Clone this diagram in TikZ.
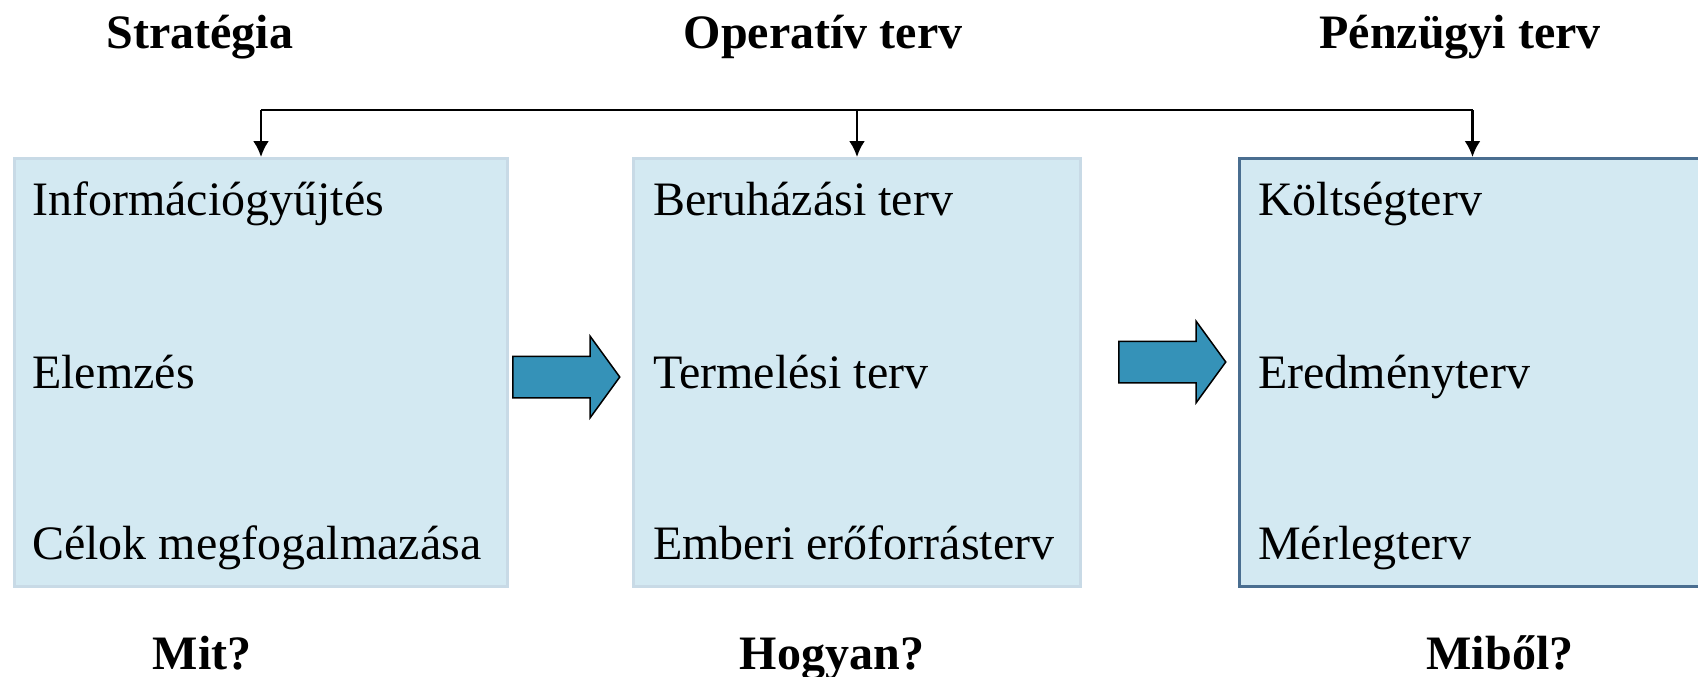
\documentclass[tikz,border=0pt]{standalone}
\usepackage{fontspec}
\setmainfont{Liberation Serif}
\usetikzlibrary{shapes.arrows,arrows.meta}
\definecolor{boxfill}{HTML}{D3E9F2}
\definecolor{boxline}{HTML}{C8DAE6}
\definecolor{boxdark}{HTML}{4A6E90}
\definecolor{arrowfill}{HTML}{3592B8}
\begin{document}
\begin{tikzpicture}[>={Latex[length=16pt,width=16pt]},x=1pt,y=-1pt,
    box/.style={draw=boxline,line width=3pt,fill=boxfill,anchor=north west,inner sep=0,minimum height=428pt},
    item/.style={anchor=base west,inner sep=0,font=\fontsize{48}{58}\selectfont},
    head/.style={anchor=base,inner sep=0,font=\fontsize{48}{58}\selectfont\bfseries},
    fat/.style={shape=single arrow,draw,line width=1.5pt,fill=arrowfill,anchor=tail,inner xsep=0,inner ysep=20pt,
      minimum height=107pt,single arrow head extend=20pt,single arrow tip angle=108}]
    \useasboundingbox (0,0) rectangle (1698,677);
    % boxes
    \path (13,157) node [box,minimum width=493pt](strat){};
    \path (632,157) node [box,minimum width=447pt](oper){};
    \path (1238,157) node [box,draw=boxdark,minimum width=466pt](penz){};
    % headings
    \path (200,49) node [head](hstrat){Stratégia};
    \path (823,49) node [head](hoper){Operatív terv};
    \path (1460,49) node [head](hpenz){Pénzügyi terv};
    \path (202,669) node [head](qstrat){Mit?};
    \path (832,669) node [head](qoper){Hogyan?};
    \path (1500,669) node [head](qpenz){Miből?};
    % items
    \path (32,215) node [item](s1){Információgyűjtés};
    \path (32,388) node [item](s2){Elemzés};
    \path (32,559) node [item](s3){Célok megfogalmazása};
    \path (653,215) node [item](o1){Beruházási terv};
    \path (653,388) node [item](o2){Termelési terv};
    \path (653,559) node [item](o3){Emberi erőforrásterv};
    \path (1258,215) node [item](p1){Költségterv};
    \path (1258,388) node [item](p2){Eredményterv};
    \path (1258,559) node [item](p3){Mérlegterv};
    % block arrows
    \path (512,377) node [fat](a1){};
    \path (1118,362) node [fat](a2){};
    % feedback line
    \coordinate (t1) at (strat.north |- 0,110);
    \coordinate (t2) at (oper.north |- 0,110);
    \coordinate (t3) at (penz.north |- 0,110);
    \draw[line width=2.5pt] (t1) -- (t3);
    \draw[->,line width=2.5pt] (t1) -- (strat.north);
    \draw[->,line width=2.5pt] (t2) -- (oper.north);
    \draw[->,line width=2.5pt] (t3) -- (penz.north);
  \end{tikzpicture}
\end{document}
